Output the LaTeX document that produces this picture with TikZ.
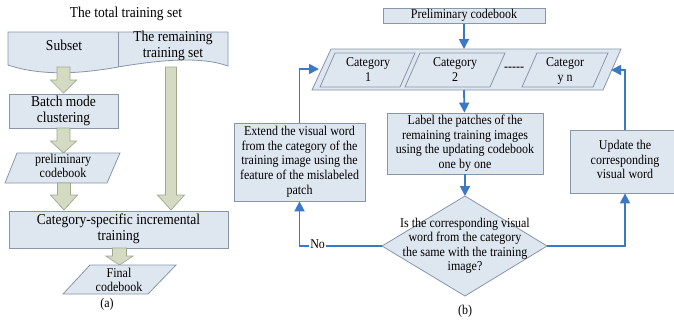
\documentclass[tikz,border=0pt]{standalone}
\usepackage{fontspec}
\usepackage{graphicx}
\setmainfont{Liberation Serif}
\usetikzlibrary{arrows.meta}
\definecolor{boxfill}{HTML}{DEE6F0}
\definecolor{boxline}{HTML}{8797A8}
\definecolor{arrfill}{HTML}{D5DBC2}
\definecolor{arrline}{HTML}{A2A890}
\definecolor{blueln}{HTML}{3B78C6}
\newcommand\tall[1]{\scalebox{1}[1.12]{\begin{tabular}{@{}c@{}}#1\end{tabular}}}
\newcommand\blockdown[6]{%
  \draw[blk] ({#1-#5},#2) -- ({#1+#5},#2) -- ({#1+#5},#3) -- ({#1+#6},#3) -- (#1,#4)
    -- ({#1-#6},#3) -- ({#1-#5},#3) -- cycle;}
\begin{document}
\begin{tikzpicture}[x=1pt,y=-1pt,
  box/.style={draw=boxline, fill=boxfill, line width=0.8pt, inner sep=0pt, align=center,
    font=\fontsize{12}{13}\selectfont},
  bigbox/.style={box, font=\fontsize{13.5}{14.5}\selectfont},
  shp/.style={draw=boxline, fill=boxfill, line width=0.8pt},
  txt/.style={inner sep=0pt, align=center, font=\fontsize{12}{13}\selectfont},
  bigtxt/.style={inner sep=0pt, align=center, font=\fontsize{13.5}{14.5}\selectfont},
  blk/.style={draw=arrline, fill=arrfill, line width=0.7pt},
  flow/.style={draw=blueln, line width=1.8pt, -{Triangle[length=10pt,width=10pt]}},
]
\useasboundingbox (0,0) rectangle (674,322);
\fill[white] (0,0) rectangle (674,322);

% ---------------- (a) ----------------
\node[bigtxt] (title) at (126,14) {\tall{The total training set}};
\draw[shp] (8,32) -- (228,32) -- (228,66)
  .. controls (200,56) and (160,60) .. (118,67)
  .. controls (80,74) and (40,76) .. (8,65) -- cycle;
\draw[draw=boxline, line width=0.8pt] (118,32) -- (118,67);
\node[bigtxt] (subset) at (64,47) {\tall{Subset}};
\node[bigtxt] (remain) at (173,46.5) {\tall{The remaining\\training set}};

\blockdown{63.5}{67}{80}{93}{6.5}{13}
\node[bigbox, minimum width=109pt, minimum height=34pt] (batch) at (63.5,111) {\tall{Batch mode\\clustering}};
\blockdown{63.5}{128}{141}{153}{6.5}{13}

\draw[shp] (5,183) -- (17,153) -- (120,153) -- (107,183) -- cycle;
\node[txt] (prelimA) at (63,167.5) {\tall{preliminary\\codebook}};

\blockdown{64}{183}{195}{210}{6.5}{13.5}
\blockdown{171}{67}{195}{210}{5.5}{13.5}

\node[bigbox, minimum width=219pt, minimum height=37pt] (cst) at (118.5,229.5) {\tall{Category-specific incremental\\training}};
\blockdown{119.5}{248}{256}{265}{7}{13.5}

\draw[shp] (63,294) -- (90,265) -- (176,265) -- (148,294) -- cycle;
\node[txt] (final) at (119,281.5) {\tall{Final\\codebook}};
\node[txt] (la) at (107,305) {\tall{(a)}};

% ---------------- (b) ----------------
\node[box, minimum width=162pt, minimum height=14pt] (prelimB) at (464,16) {\tall{Preliminary codebook}};

\draw[shp] (312,90) -- (331,49) -- (621,49) -- (603,90) -- cycle;
\coordinate (cbT) at (464,49);
\coordinate (cbB) at (464,90);
\coordinate (cbL) at (319,69);
\coordinate (cbR) at (611,70);
\draw[shp] (320,87) -- (335,53) -- (415,53) -- (400,87) -- cycle;
\draw[shp] (405,87) -- (420,53) -- (505,53) -- (490,87) -- cycle;
\draw[shp] (522,87) -- (537,53) -- (608,53) -- (593,87) -- cycle;
\node[txt] (c1) at (368,71) {\tall{Category\\1}};
\node[txt] (c2) at (455,71) {\tall{Category\\2}};
\node[txt] (cn) at (565,71) {\tall{Categor\\y n}};
\node[txt, font=\fontsize{12}{14}\bfseries] (dots) at (514,69) {-\kern0pt-\kern0pt-\kern0pt-\kern0pt-};

\node[box, minimum width=156pt, minimum height=61pt] (label) at (465,143.5)
  {\tall{Label the patches of the\\remaining training images\\using the updating codebook\\one by one}};

\draw[shp] (465,196) coordinate (dT) -- (547,246) coordinate (dR) -- (465,296) coordinate (dB)
  -- (382,246) coordinate (dL) -- cycle;
\node[txt] (dtext) at (465,246) {\tall{Is the corresponding visual\\word from the category\\the same with the training\\image?}};

\node[box, minimum width=131pt, minimum height=78pt] (extend) at (299.5,162)
  {\tall{Extend the visual word\\from the category of the\\training image using the\\feature of the mislabeled\\patch}};
\node[box, minimum width=110pt, minimum height=63pt] (update) at (625,161.5)
  {\tall{Update the\\corresponding\\visual word}};

\draw[flow] (prelimB) -- (cbT);
\draw[flow] (cbB) -- (label);
\draw[flow] (label) -- (dT);
\draw[flow] (dL) -| node[pos=0.39, fill=white, inner sep=1pt, font=\fontsize{12}{13}\selectfont] {\tall{No}} (extend);
\draw[flow] (extend) |- (cbL);
\draw[flow] (dR) -| (update);
\draw[flow] (update) |- (cbR);

\node[txt] (lb) at (465,312) {\tall{(b)}};
\end{tikzpicture}
\end{document}
